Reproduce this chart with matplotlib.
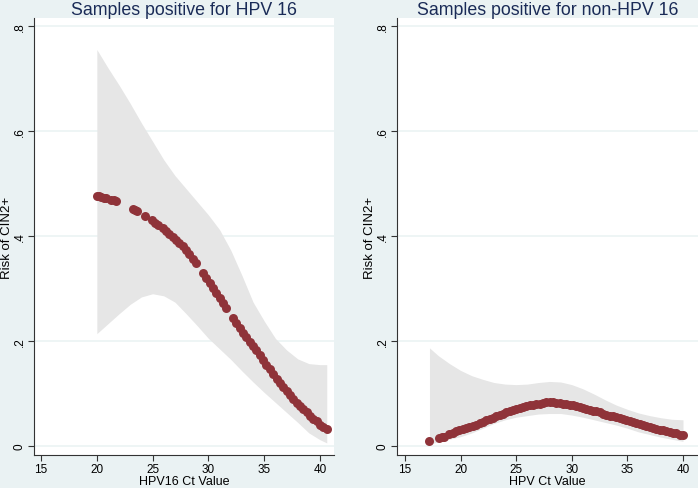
import matplotlib
matplotlib.use('Agg')
import matplotlib.pyplot as plt

# ---- panel 1: samples positive for HPV 16 ----
ct16 = [20.0, 20.2, 20.4, 20.6, 20.8, 21.3, 21.5, 21.7, 23.2, 23.4, 23.6, 24.3,
        24.9, 25.2, 25.5, 25.9, 26.2, 26.5, 26.8, 27.1, 27.4, 27.7, 28.0, 28.3,
        28.6, 28.9, 29.5, 29.8, 30.1, 30.4, 30.7, 31.0, 31.3, 31.6, 32.2, 32.5,
        32.8, 33.1, 33.4, 33.7, 34.0, 34.3, 34.6, 34.9, 35.2, 35.5, 35.8, 36.1,
        36.4, 36.7, 37.0, 37.3, 37.6, 37.9, 38.2, 38.5, 38.8, 39.1, 39.4, 39.7,
        40.0, 40.3, 40.6]
risk16 = [.477, .476, .474, .473, .472, .469, .468, .466, .452, .450, .447, .438,
          .430, .425, .421, .415, .410, .404, .399, .393, .387, .380, .373, .365,
          .357, .348, .329, .320, .310, .301, .291, .282, .272, .263, .244, .234,
          .225, .216, .208, .199, .191, .182, .173, .164, .155, .146, .137, .128,
          .120, .112, .104, .097, .090, .082, .076, .070, .064, .058, .052, .047,
          .041, .037, .033]
ci16_x = [20, 21, 22, 23, 24, 25, 26, 27, 28, 29, 30, 31, 32, 33, 34, 35, 36,
          37, 38, 39, 40, 40.6]
ci16_hi = [.755, .720, .687, .652, .615, .580, .545, .515, .490, .465, .440,
           .412, .373, .325, .274, .238, .205, .183, .166, .157, .155, .155]
ci16_lo = [.214, .233, .252, .270, .284, .290, .286, .274, .252, .229, .205,
           .185, .165, .143, .122, .102, .083, .064, .045, .025, .012, .006]

# ---- panel 2: samples positive for non-HPV 16 ----
ctnon = [17.2, 18.1, 18.3, 18.5,
         19.0, 19.3, 19.6, 19.9, 20.2, 20.5, 20.8, 21.1, 21.4, 21.7, 22.0, 22.3,
         22.6, 22.9, 23.2, 23.5, 23.8, 24.1, 24.4, 24.7, 25.0, 25.3, 25.6, 25.9,
         26.2, 26.5, 26.8, 27.1, 27.4, 27.7, 28.0, 28.3, 28.6, 28.9, 29.2, 29.5,
         29.8, 30.1, 30.4, 30.7, 31.0, 31.3, 31.6, 31.9, 32.2, 32.5, 32.8, 33.1,
         33.4, 33.7, 34.0, 34.3, 34.6, 34.9, 35.2, 35.5, 35.8, 36.1, 36.4, 36.7,
         37.0, 37.3, 37.6, 37.9, 38.2, 38.5, 38.8, 39.1, 39.4, 39.7, 40.0]
risknon = [.009, .016, .017, .018,
           .023, .025, .028, .030, .032, .034, .037, .039, .041, .044, .046, .049,
           .051, .054, .057, .059, .062, .064, .066, .069, .071, .073, .075, .076,
           .078, .079, .080, .081, .082, .083, .083, .083, .082, .082, .081, .080,
           .079, .078, .076, .074, .073, .071, .069, .067, .066, .064, .062, .060,
           .058, .057, .055, .053, .051, .049, .047, .045, .043, .042, .040, .038,
           .036, .034, .033, .031, .030, .028, .027, .025, .024, .022, .021]
cinon_x = [17.2, 18, 19, 20, 21, 22, 23, 24, 25, 26, 27, 28, 29, 30, 31, 32,
           33, 34, 35, 36, 37, 38, 39, 40]
cinon_hi = [.187, .172, .157, .144, .134, .127, .121, .118, .117, .118, .121,
            .123, .122, .117, .109, .099, .088, .078, .070, .063, .058, .054,
            .051, .050]
cinon_lo = [.004, .008, .013, .018, .025, .034, .043, .050, .055, .058, .061,
            .062, .062, .059, .055, .050, .045, .040, .034, .027, .022, .017,
            .013, .009]

titles = ['Samples positive for HPV 16', 'Samples positive for non-HPV 16']
xlabels = ['HPV16 Ct Value', 'HPV Ct Value']
yticks = [0, .2, .4, .6, .8]
ytick_labels = ['0', '.2', '.4', '.6', '.8']
xticks = [15, 20, 25, 30, 35, 40]

plt.rcParams['font.family'] = ['Liberation Sans', 'DejaVu Sans']
bg = '#eaf2f3'
band = '#e6e6e6'
dot = '#8f3339'
navy = '#1a2b57'

fig = plt.figure(figsize=(6.98, 4.89), dpi=100, facecolor=bg)
ax1 = fig.add_axes([34/698, 33/489, 300/698, 437/489])
ax2 = fig.add_axes([397/698, 33/489, 301/698, 437/489])

panels = [(ax1, ct16, risk16, ci16_x, ci16_hi, ci16_lo, (14.37, 41.25)),
          (ax2, ctnon, risknon, cinon_x, cinon_hi, cinon_lo, (14.28, 41.35))]

for i, (ax, x, y, cx, hi, lo, xl) in enumerate(panels):
    ax.set_facecolor('white')
    ax.fill_between(cx, lo, hi, color=band, lw=0, zorder=1)
    ax.scatter(x, y, s=42, color=dot, lw=0, zorder=3)
    ax.set_xlim(*xl)
    ax.set_ylim(-0.017, 0.815)
    ax.set_yticks(yticks)
    ax.set_yticklabels(ytick_labels, rotation=90, va='center')
    ax.set_xticks(xticks)
    for g in yticks:
        ax.axhline(g, color=bg, lw=1.1, zorder=0.5)
    for s in ['top', 'right']:
        ax.spines[s].set_visible(False)
    for s in ['left', 'bottom']:
        ax.spines[s].set_color('#333333')
        ax.spines[s].set_linewidth(0.8)
    ax.tick_params(colors='#333333', labelcolor='black', labelsize=8.5,
                   length=4, width=0.8, pad=2)
    ax.set_xlabel(xlabels[i], fontsize=9, labelpad=0)
    ax.set_ylabel('Risk of CIN2+', fontsize=9.5)
    ax.yaxis.set_label_coords(-0.07, 0.5)
    ax.set_title(titles[i], fontsize=12.8, color=navy, pad=3)

fig.savefig('out.png', dpi=100, facecolor=bg)
